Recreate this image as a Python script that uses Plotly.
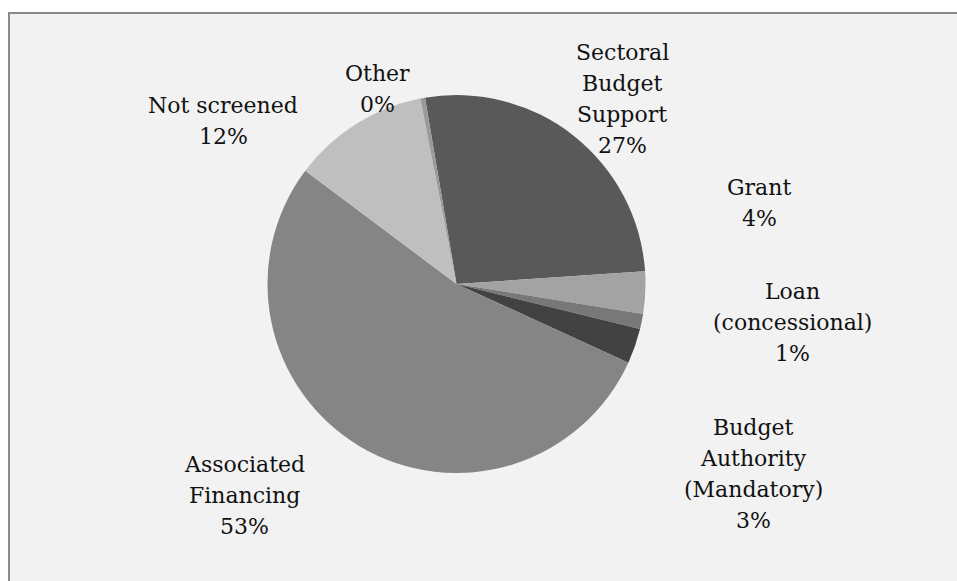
import plotly.graph_objects as go

W, H = 957, 581

categories = ["Sectoral Budget Support", "Grant", "Loan (concessional)",
              "Budget Authority (Mandatory)", "Associated Financing",
              "Not screened", "Other"]
values = [26.6, 3.6, 1.3, 3.0, 53.4, 11.7, 0.4]
pct_labels = ["27%", "4%", "1%", "3%", "53%", "12%", "0%"]
label_lines = [["Sectoral", "Budget", "Support"], ["Grant"], ["Loan", "(concessional)"],
               ["Budget", "Authority", "(Mandatory)"], ["Associated", "Financing"],
               ["Not screened"], ["Other"]]
colors = ["#595959", "#a3a3a3", "#787878", "#424242", "#858585", "#bfbfbf", "#9a9a9a"]

# label block positions: (center x, first-line middle y) in pixels - layout only
label_pos = [(622, 52.5), (759, 187.5), (792, 291.5), (753, 427.5), (244, 464.5),
             (223, 105.5), (377, 73.5)]
LINE_STEP = 31

cx, cy, r = 456.5, 284, 189

fig = go.Figure()
fig.add_trace(go.Pie(
    labels=categories, values=values, sort=False, direction="clockwise",
    rotation=-9.6, textinfo="none", hoverinfo="label+percent",
    marker=dict(colors=colors, line=dict(width=0)),
    domain=dict(x=[(cx - r) / W, (cx + r) / W], y=[(H - cy - r) / H, (H - cy + r) / H]),
    showlegend=False,
))

for lines, pct, (px, py) in zip(label_lines, pct_labels, label_pos):
    for i, t in enumerate(lines + [pct]):
        fig.add_annotation(
            text=t, x=px / W, y=1 - (py + i * LINE_STEP) / H, xref="paper", yref="paper",
            xanchor="center", yanchor="middle", showarrow=False, align="center",
            font=dict(family="DejaVu Serif", size=22, color="#111111"),
        )

# white margin on the left and top, grey border along the chart area's left and top edges
fig.add_shape(type="rect", xref="paper", yref="paper", x0=0, x1=1, y0=1 - 12 / H, y1=1,
              line=dict(width=0), fillcolor="white", layer="below")
fig.add_shape(type="rect", xref="paper", yref="paper", x0=0, x1=8 / W, y0=0, y1=1,
              line=dict(width=0), fillcolor="white", layer="below")
fig.add_shape(type="line", xref="paper", yref="paper", x0=9 / W, x1=9 / W, y0=0, y1=1 - 12 / H,
              line=dict(color="#898989", width=2))
fig.add_shape(type="line", xref="paper", yref="paper", x0=8 / W, x1=1, y0=1 - 13 / H, y1=1 - 13 / H,
              line=dict(color="#898989", width=2))

fig.update_layout(
    width=W, height=H, margin=dict(l=0, r=0, t=0, b=0),
    paper_bgcolor="#f2f2f2", plot_bgcolor="#f2f2f2",
)
fig.write_html("out.html", config={"displayModeBar": False},
               post_script="document.body.style.margin='0';document.body.style.overflow='hidden';")
